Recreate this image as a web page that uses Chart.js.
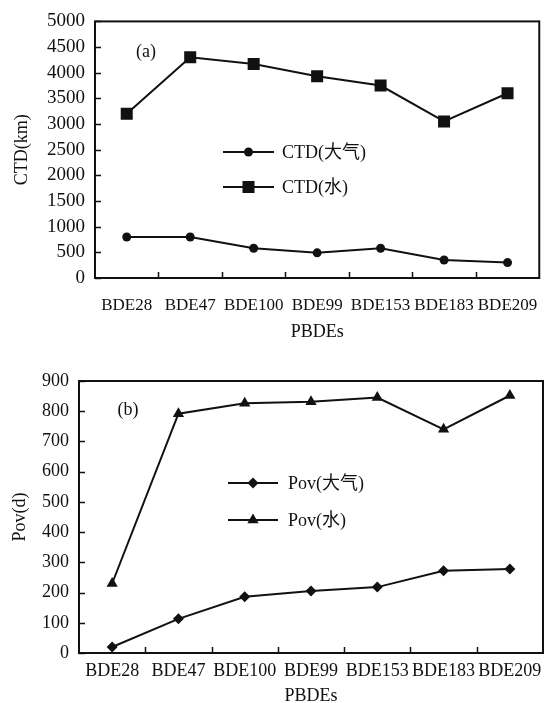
<!DOCTYPE html>
<html>
<head>
<meta charset="utf-8">
<script src="https://cdn.jsdelivr.net/npm/chart.js@4/dist/chart.umd.min.js"></script>
<style>
  html, body { margin: 0; padding: 0; background: #fff; overflow: hidden; }
  #wrap { position: relative; width: 555px; height: 703px; }
  #chartA { position: absolute; left: 0; top: 0; }
  #chartB { position: absolute; left: 0; top: 347px; }
</style>
</head>
<body>
<div id="wrap">
  <canvas id="chartA" width="555" height="347"></canvas>
  <canvas id="chartB" width="555" height="365"></canvas>
</div>
<script>
const categories = ['BDE28', 'BDE47', 'BDE100', 'BDE99', 'BDE153', 'BDE183', 'BDE209'];

const ctdAir = [800, 800, 580, 490, 580, 350, 300];
const ctdWater = [3200, 4300, 4170, 3930, 3750, 3050, 3600];

const povAir = [20, 113, 186, 205, 218, 272, 278];
const povWater = [230, 792, 826, 831, 845, 740, 852];

const serif = '"Liberation Serif", "Times New Roman", "Noto Sans CJK SC", serif';
const ink = '#111';

// box round the plot plus short inward tick marks
const frame = {
  id: 'frame',
  afterDraw(chart) {
    const ctx = chart.ctx;
    const a = chart.chartArea;
    const x = chart.scales.x;
    const y = chart.scales.y;
    ctx.save();
    ctx.strokeStyle = ink;
    ctx.lineWidth = 2;
    ctx.strokeRect(a.left, a.top, a.right - a.left, a.bottom - a.top);
    ctx.lineWidth = 1.5;
    ctx.beginPath();
    for (let i = 1; i < categories.length; i++) {
      const px = Math.round((x.getPixelForValue(i - 1) + x.getPixelForValue(i)) / 2) + 0.5;
      ctx.moveTo(px, a.bottom);
      ctx.lineTo(px, a.bottom - 6);
    }
    y.ticks.forEach(t => {
      const py = Math.round(y.getPixelForValue(t.value)) + 0.5;
      ctx.moveTo(a.left, py);
      ctx.lineTo(a.left + 6, py);
    });
    ctx.stroke();
    ctx.restore();
  }
};

// legend inside the plot and the panel letter
const notes = {
  id: 'notes',
  afterDraw(chart, args, opts) {
    const ctx = chart.ctx;
    ctx.save();
    ctx.font = '18px ' + serif;
    ctx.fillStyle = ink;
    ctx.textBaseline = 'middle';
    ctx.textAlign = 'center';
    ctx.fillText(opts.panel, opts.panelX, opts.panelY);
    ctx.textAlign = 'left';
    chart.data.datasets.forEach((ds, i) => {
      const yy = opts.rows[i];
      ctx.strokeStyle = ink;
      ctx.lineWidth = 2;
      ctx.beginPath();
      ctx.moveTo(opts.lineX0, yy);
      ctx.lineTo(opts.lineX1, yy);
      ctx.stroke();
      ctx.fillStyle = ink;
      Chart.helpers.drawPoint(ctx, { pointStyle: ds.pointStyle, radius: ds.pointRadius, rotation: 0, borderWidth: 0 },
        (opts.lineX0 + opts.lineX1) / 2, yy);
      ctx.fillText(ds.label, opts.textX, yy + 1);
    });
    ctx.restore();
  }
};

const makeChart = (id, cfg) => new Chart(document.getElementById(id), {
  type: 'line',
  data: {
    labels: categories,
    datasets: cfg.datasets.map(d => ({
      label: d.label,
      data: d.data,
      borderColor: ink,
      backgroundColor: ink,
      borderWidth: 2,
      tension: 0,
      pointStyle: d.pointStyle,
      pointRadius: d.pointRadius,
      pointHoverRadius: d.pointRadius,
      pointBackgroundColor: ink,
      pointBorderWidth: 0
    }))
  },
  options: {
    responsive: false,
    animation: false,
    devicePixelRatio: 1,
    layout: { padding: cfg.padding },
    plugins: {
      legend: { display: false },
      tooltip: { enabled: false },
      notes: cfg.notes
    },
    scales: {
      x: {
        offset: true,
        grid: { display: false, drawTicks: false },
        border: { display: false },
        ticks: { color: ink, font: { family: serif, size: cfg.xFont }, padding: cfg.xPad, maxRotation: 0, autoSkip: false },
        title: { display: true, text: 'PBDEs', color: ink, font: { family: serif, size: 18 } },
        afterFit: s => { s.height = cfg.xHeight; }
      },
      y: {
        min: 0,
        max: cfg.yMax,
        grid: { display: false, drawTicks: false },
        border: { display: false },
        ticks: {
          stepSize: cfg.yStep,
          autoSkip: false,
          color: ink,
          font: { family: serif, size: cfg.yFont },
          padding: 10,
          callback: v => String(v)
        },
        title: { display: true, text: cfg.yTitle, color: ink, font: { family: serif, size: 18 } },
        afterFit: s => { s.width = cfg.yWidth; }
      }
    }
  },
  plugins: [frame, notes]
});

makeChart('chartA', {
  datasets: [
    { label: 'CTD(大气)', data: ctdAir, pointStyle: 'circle', pointRadius: 4.5 },
    { label: 'CTD(水)', data: ctdWater, pointStyle: 'rect', pointRadius: 8.5 }
  ],
  yMax: 5000, yStep: 500, yTitle: 'CTD(km)', yFont: 19, xFont: 17,
  padding: { left: 7, right: 10, top: 20, bottom: 0 },
  yWidth: 88, xHeight: 69, xPad: 17,
  notes: { panel: '(a)', panelX: 146, panelY: 52, lineX0: 223, lineX1: 274, textX: 282, rows: [152, 187] }
});

makeChart('chartB', {
  datasets: [
    { label: 'Pov(大气)', data: povAir, pointStyle: 'rectRot', pointRadius: 5.5 },
    { label: 'Pov(水)', data: povWater, pointStyle: 'triangle', pointRadius: 6.5 }
  ],
  yMax: 900, yStep: 100, yTitle: 'Pov(d)', yFont: 18, xFont: 18,
  padding: { left: 5, right: 12, top: 34, bottom: 1 },
  yWidth: 74, xHeight: 58, xPad: 7,
  notes: { panel: '(b)', panelX: 128, panelY: 63, lineX0: 228, lineX1: 278, textX: 288, rows: [136, 173] }
});
</script>
</body>
</html>
